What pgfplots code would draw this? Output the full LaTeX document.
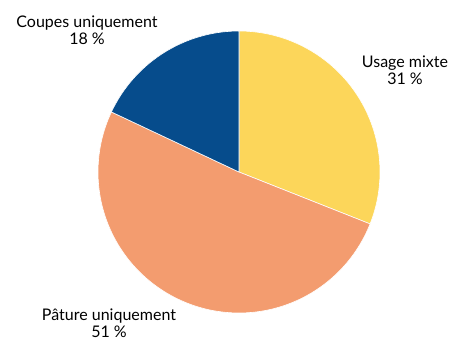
\documentclass[border=0pt]{standalone}
\usepackage{pgfplots}
\pgfplotsset{compat=1.18}
\usepackage{fontspec}
\setmainfont{Lato}
\definecolor{cyel}{HTML}{FCD65A}
\definecolor{csal}{HTML}{F39C6F}
\definecolor{cblu}{HTML}{064C8C}
\begin{document}
\begin{tikzpicture}
\begin{axis}[
  width=451pt, height=340pt, scale only axis,
  xmin=0, xmax=451, ymin=0, ymax=340,
  hide axis, clip=false,
]
% shares in percent, clockwise from the top
\pgfmathsetmacro{\va}{31}% Usage mixte
\pgfmathsetmacro{\vb}{51}% Pature uniquement
\pgfmathsetmacro{\vc}{18}% Coupes uniquement
\pgfmathsetmacro{\aA}{90}
\pgfmathsetmacro{\aB}{90-3.6*\va}
\pgfmathsetmacro{\aC}{\aB-3.6*\vb}
\pgfmathsetmacro{\aD}{\aC-3.6*\vc}
\def\cx{239}\def\cy{168}\def\R{141}
\addplot[fill=cyel, draw=white, line width=0.6pt, domain=\aB:\aA, samples=80, variable=\t]
  ({\cx+\R*cos(\t)},{\cy+\R*sin(\t)}) -- (axis cs:\cx,\cy) -- cycle;
\addplot[fill=csal, draw=white, line width=0.6pt, domain=\aC:\aB, samples=120, variable=\t]
  ({\cx+\R*cos(\t)},{\cy+\R*sin(\t)}) -- (axis cs:\cx,\cy) -- cycle;
\addplot[fill=cblu, draw=white, line width=0.6pt, domain=\aD:\aC, samples=60, variable=\t]
  ({\cx+\R*cos(\t)},{\cy+\R*sin(\t)}) -- (axis cs:\cx,\cy) -- cycle;
\node[align=center, font=\fontsize{16}{17.5}\selectfont, inner sep=0pt] at (axis cs:87,310) {Coupes uniquement\\18 \%};
\node[align=center, font=\fontsize{16}{17.5}\selectfont, inner sep=0pt] at (axis cs:405,270) {Usage mixte\\31 \%};
\node[align=center, font=\fontsize{16}{17.5}\selectfont, inner sep=0pt] at (axis cs:109,17) {Pâture uniquement\\51 \%};
\end{axis}
\pgfresetboundingbox
\useasboundingbox (0,0) rectangle (451pt,340pt);
\end{tikzpicture}
\end{document}
